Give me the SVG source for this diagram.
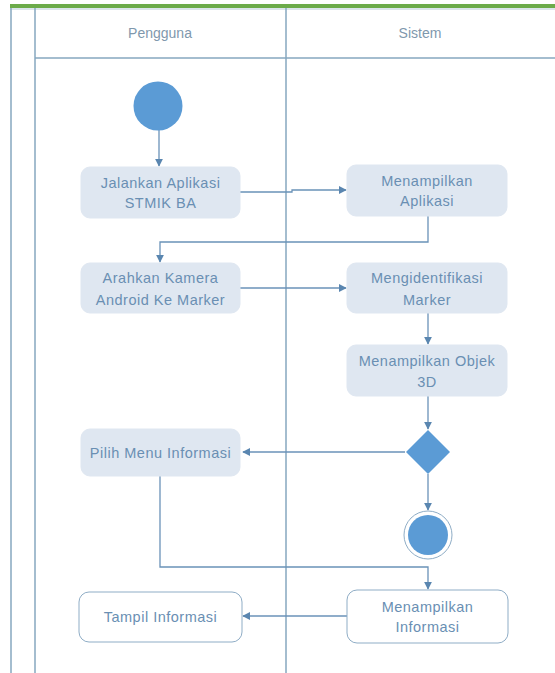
<svg xmlns="http://www.w3.org/2000/svg" width="555" height="673" viewBox="0 0 555 673">
<defs>
<style>
.lane{stroke:#86a7bf;stroke-width:1.5;fill:none}
.act{fill:#dfe7f1;stroke:#dfe7f1;stroke-width:1}
.act2{fill:#ffffff;stroke:#8fadc6;stroke-width:1}
.t{font-family:"Liberation Sans",Arial,sans-serif;font-size:14.5px;letter-spacing:0.5px;fill:#6a8fb3;text-anchor:middle}
.h{font-family:"Liberation Sans",Arial,sans-serif;font-size:14px;fill:#7f98ad;text-anchor:middle}
.c{stroke:#6a92b8;stroke-width:1.3;fill:none}
</style>
<marker id="ah" viewBox="0 0 10 10" refX="9" refY="5" markerWidth="8" markerHeight="8" markerUnits="userSpaceOnUse" orient="auto">
<path d="M0,0 L10,5 L0,10 z" fill="#5a86b0"/>
</marker>
</defs>
<rect x="0" y="0" width="555" height="673" fill="#ffffff"/>
<g id="swimlanes">
<rect x="10" y="4" width="545" height="4" fill="#6cab4a"/>
<line x1="10" y1="9" x2="555" y2="9" stroke="#b7cbd6" stroke-width="1"/>
<line class="lane" x1="11" y1="8" x2="11" y2="673"/>
<line class="lane" x1="35" y1="8" x2="35" y2="673"/>
<line class="lane" x1="286" y1="8" x2="286" y2="673"/>
<line class="lane" x1="35" y1="58" x2="555" y2="58"/>
<text class="h" x="160" y="38">Pengguna</text>
<text class="h" x="420" y="38">Sistem</text>
</g>
<g id="connectors">
<line class="c" x1="159" y1="130" x2="159" y2="166" marker-end="url(#ah)"/>
<polyline class="c" points="240,192 292,192 292,190 346,190" marker-end="url(#ah)"/>
<polyline class="c" points="428,216 428,242 160,242 160,262" marker-end="url(#ah)"/>
<line class="c" x1="240" y1="288" x2="346" y2="288" marker-end="url(#ah)"/>
<line class="c" x1="428" y1="313" x2="428" y2="344" marker-end="url(#ah)"/>
<line class="c" x1="428" y1="396" x2="428" y2="429" marker-end="url(#ah)"/>
<line class="c" x1="405" y1="452" x2="243" y2="452" marker-end="url(#ah)"/>
<line class="c" x1="428" y1="474" x2="428" y2="510" marker-end="url(#ah)"/>
<polyline class="c" points="160,476 160,567 428,567 428,589" marker-end="url(#ah)"/>
<line class="c" x1="347" y1="616" x2="243" y2="616" marker-end="url(#ah)"/>
</g>
<g id="start"><circle cx="158" cy="106" r="24.5" fill="#5b9bd5"/></g>
<g id="jalankan"><rect class="act" x="81" y="167" width="159" height="51" rx="9"/><text class="t" x="160.5" y="188">Jalankan Aplikasi</text><text class="t" x="160.5" y="208">STMIK BA</text></g>
<g id="menampilkan-aplikasi"><rect class="act" x="347" y="165" width="160" height="51" rx="9"/><text class="t" x="427" y="186">Menampilkan</text><text class="t" x="427" y="206">Aplikasi</text></g>
<g id="arahkan"><rect class="act" x="81" y="263" width="159" height="50" rx="9"/><text class="t" x="160.5" y="283">Arahkan Kamera</text><text class="t" x="160.5" y="305">Android Ke Marker</text></g>
<g id="mengidentifikasi"><rect class="act" x="347" y="263" width="160" height="50" rx="9"/><text class="t" x="427" y="283">Mengidentifikasi</text><text class="t" x="427" y="305">Marker</text></g>
<g id="objek3d"><rect class="act" x="347" y="345" width="160" height="51" rx="9"/><text class="t" x="427" y="366">Menampilkan Objek</text><text class="t" x="427" y="387">3D</text></g>
<g id="decision"><polygon points="428,430 450,452 428,474 406,452" fill="#5b9bd5"/></g>
<g id="pilih-menu"><rect class="act" x="81" y="429" width="159" height="47" rx="9"/><text class="t" x="160.5" y="458">Pilih Menu Informasi</text></g>
<g id="end"><circle cx="428" cy="535" r="24" fill="#ffffff" stroke="#8fadc6" stroke-width="1"/><circle cx="428" cy="535" r="20" fill="#5b9bd5"/></g>
<g id="menampilkan-informasi"><rect class="act2" x="347" y="590" width="161" height="53" rx="10"/><text class="t" x="427.5" y="612">Menampilkan</text><text class="t" x="427.5" y="632">Informasi</text></g>
<g id="tampil-informasi"><rect class="act2" x="79" y="592" width="163" height="50" rx="10"/><text class="t" x="160.5" y="622">Tampil Informasi</text></g>
</svg>
